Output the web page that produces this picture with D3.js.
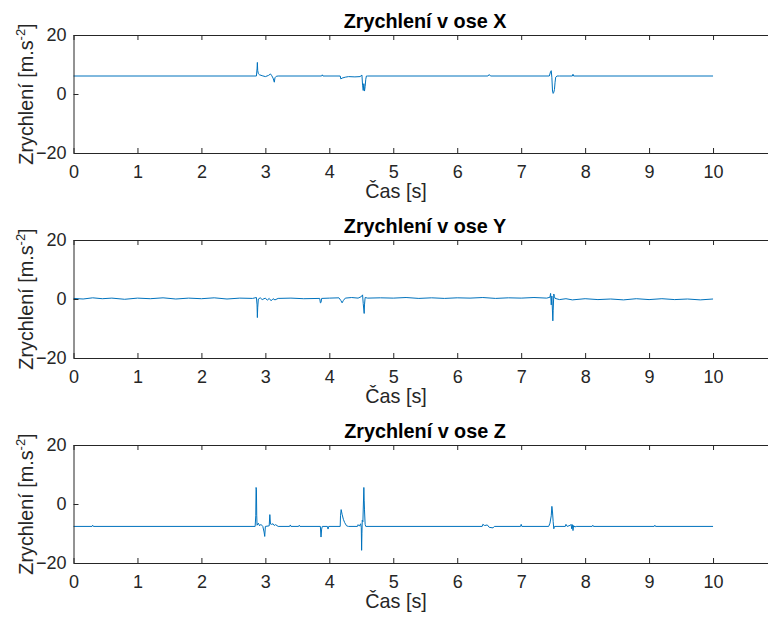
<!DOCTYPE html>
<html>
<head>
<meta charset="utf-8">
<script src="https://cdn.jsdelivr.net/npm/d3@7"></script>
<style>
  body { margin: 0; background: #fff; }
  svg { display: block; font-family: "Liberation Sans", Arial, sans-serif; }
</style>
</head>
<body>
<svg id="chart"></svg>
<script>
// tick values
const xTicks = [0, 1, 2, 3, 4, 5, 6, 7, 8, 9, 10]
const yTicks = [-20, 0, 20]
const titles = ["Zrychlení v ose X", "Zrychlení v ose Y", "Zrychlení v ose Z"]

// osa X (cas, hodnota)
const tX = [0, 2.86, 2.87, 2.875, 2.88, 2.89, 2.91, 2.95, 3.0, 3.05, 3.08, 3.1, 3.12, 3.14, 3.15, 3.17, 3.2,
    3.88, 3.89, 3.9, 4.17, 4.18, 4.2, 4.25, 4.3, 4.4, 4.48, 4.51, 4.52, 4.53, 4.54, 4.55, 4.56, 4.57, 4.58, 4.6,
    6.48, 6.5, 6.52, 7.44, 7.46, 7.47, 7.48, 7.49, 7.5, 7.51, 7.52, 7.53, 7.54, 7.56, 7.6, 7.8, 7.81, 7.82, 10]
const vX = [6.1, 6.1, 8.5, 10.7, 8.0, 6.9, 6.5, 6.2, 5.9, 6.3, 6.8, 6.2, 5.4, 4.0, 5.5, 6.0, 6.1,
    6.1, 6.5, 6.1, 6.1, 5.1, 5.4, 5.7, 5.9, 5.8, 5.9, 6.4, 3.0, 1.2, 3.5, 1.0, 2.5, 5.0, 6.1, 6.1,
    6.1, 6.6, 6.1, 6.1, 7.6, 7.9, 5.5, 1.0, 0.2, 0.6, 1.5, 4.0, 5.7, 6.1, 6.1, 6.1, 6.7, 6.1, 6.1]

// osa Y
const tY = [0, 0.15, 0.3, 0.45, 0.6, 0.8, 1.0, 1.2, 1.4, 1.6, 1.8, 2.0, 2.2, 2.4, 2.6, 2.8, 2.86, 2.87, 2.875, 2.88,
    2.89, 2.92, 2.95, 3.0, 3.03, 3.06, 3.09, 3.12, 3.15, 3.2, 3.4, 3.6, 3.85, 3.86, 3.87, 3.88, 4.0, 4.15,
    4.18, 4.2, 4.22, 4.25, 4.35, 4.45, 4.5, 4.52, 4.53, 4.545, 4.55, 4.56, 4.6, 4.8, 5.0, 5.2, 5.4, 5.6, 5.8,
    6.0, 6.2, 6.4, 6.6, 6.8, 7.0, 7.2, 7.4, 7.45, 7.46, 7.47, 7.48, 7.495, 7.5, 7.51, 7.52, 7.53, 7.6, 7.7,
    7.8, 8.0, 8.2, 8.4, 8.6, 8.8, 9.0, 9.2, 9.4, 9.6, 9.8, 10]
const vY = [0.2, 0.0, 0.4, 0.1, 0.3, -0.1, 0.3, 0.1, 0.4, 0.0, 0.3, 0.1, 0.4, 0.0, 0.3, 0.2, 0.5, -2.0, -6.3, -3.0,
    0.0, 0.4, -0.2, 0.3, -0.4, 0.2, -0.6, 0.1, -0.3, 0.2, 0.3, 0.1, 0.2, -1.3, -1.2, 0.2, 0.3, 0.4,
    -0.5, -1.3, -0.5, 0.3, 0.5, 0.3, 0.8, 1.4, -1.5, -4.9, -2.0, 0.5, 0.3, 0.4, 0.3, 0.5, 0.2, 0.4, 0.2,
    0.4, 0.3, 0.5, 0.2, 0.4, 0.3, 0.5, 0.3, 0.6, 1.9, -2.0, 1.0, -7.4, -4.0, 1.7, 0.8, 0.2, -0.2, 0.1,
    -0.3, 0.1, -0.2, 0.0, -0.3, 0.1, -0.2, 0.1, -0.2, 0.0, -0.3, 0.0]

// osa Z
const tZ = [0, 0.29, 0.3, 0.31, 2.84, 2.85, 2.855, 2.86, 2.865, 2.87, 2.89, 2.91, 2.93, 2.96, 2.98, 2.99, 3.0,
    3.06, 3.07, 3.08, 3.1, 3.12, 3.14, 3.16, 3.2, 3.38, 3.39, 3.4, 3.52, 3.53, 3.54, 3.86, 3.87, 3.88, 3.89,
    3.97, 3.98, 3.99, 4.17, 4.175, 4.185, 4.2, 4.22, 4.24, 4.27, 4.3, 4.44, 4.45, 4.47, 4.49, 4.5, 4.505,
    4.51, 4.515, 4.525, 4.54, 4.545, 4.55, 4.56, 4.57, 6.39, 6.4, 6.43, 6.47, 6.5, 6.56, 6.58, 6.99, 7.0,
    7.01, 7.43, 7.45, 7.47, 7.48, 7.49, 7.5, 7.51, 7.52, 7.69, 7.7, 7.72, 7.77, 7.78, 7.79, 7.8, 7.81, 7.82,
    7.84, 7.86, 8.11, 8.12, 8.13, 9.08, 9.09, 9.1, 10]
const vZ = [-7.6, -7.6, -7.2, -7.6, -7.6, -4.0, 5.6, 5.0, -3.8, -7.2, -6.5, -7.4, -6.9, -7.6, -9.5, -11.0, -7.6,
    -7.4, -3.6, -6.8, -6.9, -6.7, -7.3, -7.0, -7.6, -7.6, -7.1, -7.6, -7.6, -7.2, -7.6, -7.6, -11.2, -8.5, -7.6,
    -7.6, -8.5, -7.6, -7.6, -4.0, -1.9, -3.5, -5.2, -6.3, -7.4, -7.6, -7.6, -7.0, -7.5, -6.7, -8.0, -15.7,
    -10.0, -5.5, -6.0, 5.6, 1.3, -2.0, -6.9, -7.6, -7.6, -6.9, -7.3, -7.1, -7.9, -8.1, -7.6, -7.6, -6.9,
    -7.6, -7.6, -6.5, -4.0, -0.8, -2.7, -6.0, -8.4, -7.6, -7.6, -6.9, -7.6, -7.2, -6.9, -8.4, -7.0, -9.0, -7.3,
    -7.8, -7.6, -7.6, -7.2, -7.6, -7.6, -7.2, -7.6, -7.6]

const series = [[tX, vX], [tY, vY], [tZ, vZ]]

const width = 768
const height = 619
const left = 73.5
const tops = [35, 240, 445]
const plotH = 118
const axisColor = "#262626"
const lineColor = "#0072BD"

const svg = d3.select("#chart")
    .attr("width", width)
    .attr("height", height)

const x = d3.scaleLinear()
    .domain([0, 11])
    .range([left, 777])

series.forEach(function (s, i) {
    const top = tops[i]
    const bottom = top + plotH

    const y = d3.scaleLinear()
        .domain([-20, 20])
        .range([bottom, top])

    const g = svg.append("g")

    const data = s[0].map((t, k) => [t, s[1][k]])

    g.append("path")
        .datum(data)
        .attr("fill", "none")
        .attr("stroke", lineColor)
        .attr("stroke-width", 1)
        .attr("stroke-linejoin", "round")
        .attr("d", d3.line().x(d => x(d[0])).y(d => y(d[1])))

    g.append("g")
        .attr("transform", "translate(0," + bottom + ")")
        .call(d3.axisBottom(x).tickValues(xTicks).tickSizeInner(-5).tickSizeOuter(0).tickPadding(12))

    g.append("g")
        .attr("transform", "translate(0," + top + ")")
        .call(d3.axisTop(x).tickValues(xTicks).tickSizeInner(-5).tickSizeOuter(0).tickFormat(""))

    g.append("g")
        .attr("transform", "translate(" + left + ",0)")
        .call(d3.axisLeft(y).tickValues(yTicks).tickSizeInner(-5).tickSizeOuter(0).tickPadding(7))

    g.selectAll(".domain, .tick line")
        .attr("stroke", axisColor)
        .attr("stroke-width", 1)
    g.selectAll(".tick text")
        .attr("fill", axisColor)
        .style("font-size", "18px")
        .style("font-family", "'Liberation Sans', Arial, sans-serif")

    g.append("text")
        .attr("x", 425)
        .attr("y", top - 7)
        .attr("text-anchor", "middle")
        .style("font-size", "19.8px")
        .style("font-weight", "bold")
        .attr("fill", "#000")
        .text(titles[i])

    g.append("text")
        .attr("x", 396)
        .attr("y", bottom + 45)
        .attr("text-anchor", "middle")
        .style("font-size", "19.8px")
        .attr("fill", axisColor)
        .text("Čas [s]")

    const yl = g.append("text")
        .attr("transform", "translate(33," + (top + plotH / 2) + ") rotate(-90)")
        .attr("text-anchor", "middle")
        .style("font-size", "19.8px")
        .attr("fill", axisColor)
    yl.append("tspan").text("Zrychlení [m.s")
    yl.append("tspan").attr("dy", -8).style("font-size", "13px").text("-2")
    yl.append("tspan").attr("dy", 8).text("]")
})
</script>
</body>
</html>
